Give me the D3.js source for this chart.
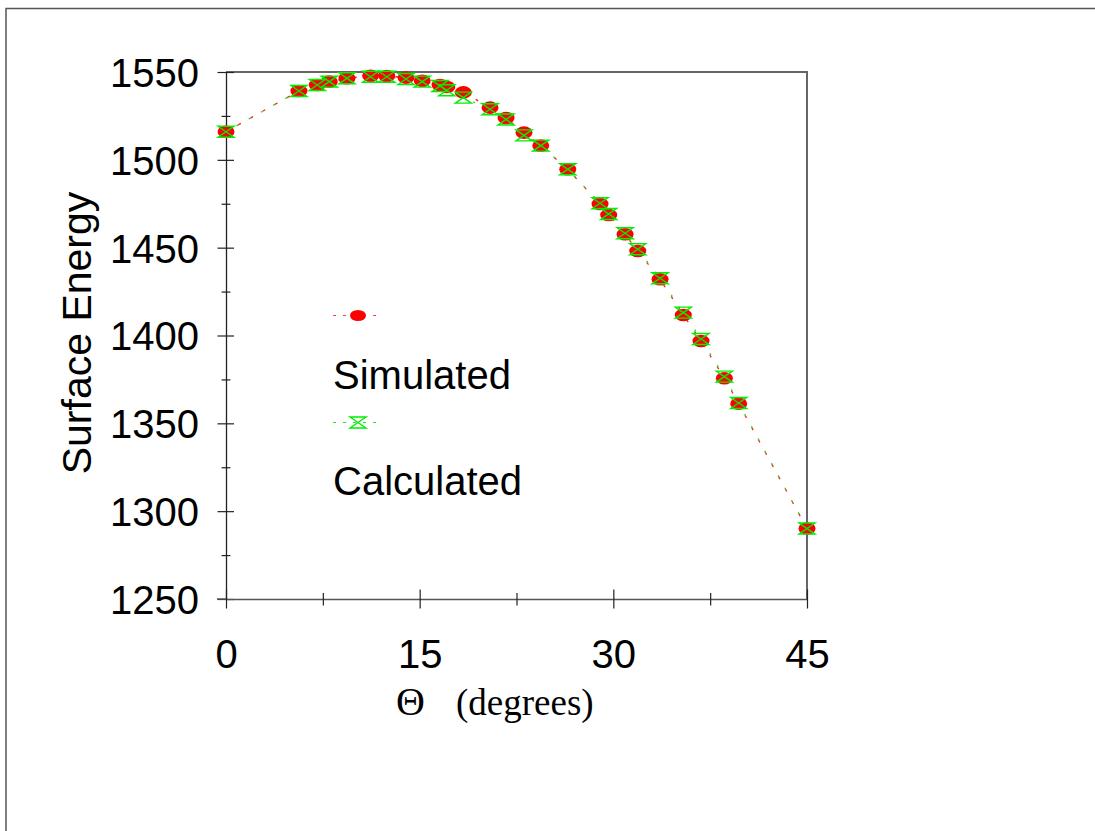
<!DOCTYPE html>
<html>
<head>
<meta charset="utf-8">
<script src="https://cdn.jsdelivr.net/npm/d3@7"></script>
<style>
  html, body { margin: 0; padding: 0; background: #fff; }
  svg { display: block; }
</style>
</head>
<body>
<svg id="chart" width="1095" height="831"></svg>
<script>
// ---- data ----
const theta = [0, 5.65, 7.07, 8.0, 9.37, 11.2, 12.45, 13.94, 15.2, 16.58, 17.1, 18.38, 20.45,
               21.69, 23.08, 24.38, 26.47, 28.97, 29.64, 30.91, 31.89, 33.62, 35.42, 36.79,
               38.6, 39.71, 45];
const simulated = [1516.0, 1539.2, 1542.6, 1544.5, 1546.4, 1547.9, 1547.7, 1546.8, 1545.0, 1542.6,
                   1541.5, 1538.4, 1529.7, 1523.8, 1515.5, 1508.1, 1494.6, 1474.9, 1468.6, 1457.6,
                   1448.1, 1432.0, 1411.7, 1396.9, 1375.7, 1361.2, 1290.1];
const calculated = [1516.0, 1539.2, 1542.6, 1544.5, 1546.4, 1547.3, 1547.3, 1546.0, 1544.5, 1542.0,
                    1539.6, 1535.4, 1528.8, 1523.0, 1513.9, 1508.1, 1494.6, 1475.3, 1469.2, 1458.2,
                    1449.1, 1432.6, 1413.0, 1398.0, 1376.6, 1361.6, 1290.1];
const xMajorTicks = [0, 15, 30, 45];
const xMinorTicks = [7.5, 22.5, 37.5];
const yMajorTicks = [1250, 1300, 1350, 1400, 1450, 1500, 1550];
const yMinorTicks = [1275, 1325, 1375, 1425, 1475, 1525];
const seriesNames = ["Simulated", "Calculated"];
const xTitle = "(degrees)";
const xSymbol = "\u0398";
const yTitle = "Surface Energy";

// ---- layout ----
const svg = d3.select("#chart");
const L = 226, R = 807, T = 72, B = 599;
const x = d3.scaleLinear().domain([0, 45]).range([L, R]);
const y = d3.scaleLinear().domain([1250, 1550]).range([B, T]);
const sans = "Liberation Sans, Arial, Helvetica, sans-serif";
const serif = "Liberation Serif, Times New Roman, serif";

// outer frame (partially visible)
svg.append("path").attr("d", "M6,831 V8.5 H1095")
  .attr("fill", "none").attr("stroke", "#555").attr("stroke-width", 1.5);

// top & right borders
svg.append("path").attr("d", `M${L},${T} H${R} V${B}`)
  .attr("fill", "none").attr("stroke", "#666").attr("stroke-width", 2);

// Y axis (ticks cross the axis line)
const yAxisMajor = d3.axisLeft(y).tickValues(yMajorTicks).tickSizeInner(8.5).tickSizeOuter(0).tickFormat(d3.format("d")).tickPadding(20);
const gy = svg.append("g").attr("transform", `translate(${L},0)`).call(yAxisMajor);
gy.select(".domain").attr("stroke", "#222").attr("stroke-width", 1.3);
gy.selectAll(".tick line").attr("x2", -8.5).attr("x1", 8).attr("stroke", "#222").attr("stroke-width", 1.2);
gy.selectAll(".tick text").attr("font-family", sans).attr("font-size", 40).attr("fill", "#000")
  .attr("x", -27).attr("dy", "0.36em");
const gyMinor = svg.append("g").attr("transform", `translate(${L},0)`)
  .call(d3.axisLeft(y).tickValues(yMinorTicks).tickSize(4.4).tickFormat(""));
gyMinor.select(".domain").remove();
gyMinor.selectAll(".tick line").attr("x1", 4.4).attr("stroke", "#222").attr("stroke-width", 1.2);

// X axis
const gx = svg.append("g").attr("transform", `translate(0,${B})`)
  .call(d3.axisBottom(x).tickValues(xMajorTicks).tickSizeInner(9.5).tickSizeOuter(0).tickFormat(d3.format("d")));
gx.select(".domain").attr("stroke", "#555").attr("stroke-width", 1.5);
gx.selectAll(".tick line").attr("y1", -9.5).attr("stroke", "#222").attr("stroke-width", 1.2);
gx.selectAll(".tick text").attr("font-family", sans).attr("font-size", 40).attr("fill", "#000")
  .attr("y", 69).attr("dy", 0);
const gxMinor = svg.append("g").attr("transform", `translate(0,${B})`)
  .call(d3.axisBottom(x).tickValues(xMinorTicks).tickSize(6.5).tickFormat(""));
gxMinor.select(".domain").remove();
gxMinor.selectAll(".tick line").attr("y1", -6).attr("stroke", "#222").attr("stroke-width", 1.2);
// extend axis line slightly left like reference
svg.append("line").attr("x1", L - 9).attr("x2", L).attr("y1", B).attr("y2", B)
  .attr("stroke", "#555").attr("stroke-width", 1.5);

// axis titles
const xt = svg.append("text").attr("y", 715)
  .attr("font-family", serif).attr("fill", "#000");
xt.append("tspan").attr("x", 396).attr("font-size", 40).text(xSymbol);
xt.append("tspan").attr("x", 456).attr("font-size", 37).text(xTitle);

svg.append("text").attr("transform", "translate(91,333) rotate(-90)")
  .attr("text-anchor", "middle").attr("font-family", sans).attr("font-size", 41).attr("fill", "#000")
  .text(yTitle);

// ---- series ----
const simData = theta.map((t, i) => [t, simulated[i]]);
const calData = theta.map((t, i) => [t, calculated[i]]);
const line = d3.line().x(d => x(d[0])).y(d => y(d[1]));

svg.append("path").datum(simData).attr("d", line).attr("fill", "none")
  .attr("stroke", "#ff2020").attr("stroke-width", 1.3).attr("stroke-dasharray", "3,11");
svg.append("path").datum(calData).attr("d", line).attr("fill", "none")
  .attr("stroke", "#22dd22").attr("stroke-width", 1.3).attr("stroke-dasharray", "2,12").attr("stroke-dashoffset", 2);

const hourglass = "M-8,-5.5 H8 L-8,5.5 H8 Z";

svg.append("g").selectAll("ellipse").data(simData).join("ellipse")
  .attr("cx", d => x(d[0])).attr("cy", d => y(d[1])).attr("rx", 8.5).attr("ry", 6.3)
  .attr("fill", "#ff0000");
svg.append("g").selectAll("path").data(calData).join("path")
  .attr("transform", d => `translate(${x(d[0])},${y(d[1])})`).attr("d", hourglass)
  .attr("fill", "none").attr("stroke", "#00ee00").attr("stroke-width", 1.4);

// ---- legend ----
const lg = svg.append("g");
// Simulated
lg.append("line").attr("x1", 333).attr("x2", 380).attr("y1", 315.5).attr("y2", 315.5)
  .attr("stroke", "#ff4040").attr("stroke-width", 1.2).attr("stroke-dasharray", "3,7");
lg.append("ellipse").attr("cx", 358).attr("cy", 315.5).attr("rx", 8).attr("ry", 5.5).attr("fill", "#ff0000");
lg.append("text").attr("x", 333).attr("y", 389).attr("font-family", sans).attr("font-size", 40)
  .attr("fill", "#000").text(seriesNames[0]);
// Calculated
lg.append("line").attr("x1", 333).attr("x2", 380).attr("y1", 422.5).attr("y2", 422.5)
  .attr("stroke", "#33dd33").attr("stroke-width", 1.2).attr("stroke-dasharray", "3,7");
lg.append("path").attr("transform", "translate(358,422.5)").attr("d", hourglass)
  .attr("fill", "none").attr("stroke", "#00ee00").attr("stroke-width", 1.4);
lg.append("text").attr("x", 333).attr("y", 495).attr("font-family", sans).attr("font-size", 40)
  .attr("fill", "#000").text(seriesNames[1]);
</script>
</body>
</html>
